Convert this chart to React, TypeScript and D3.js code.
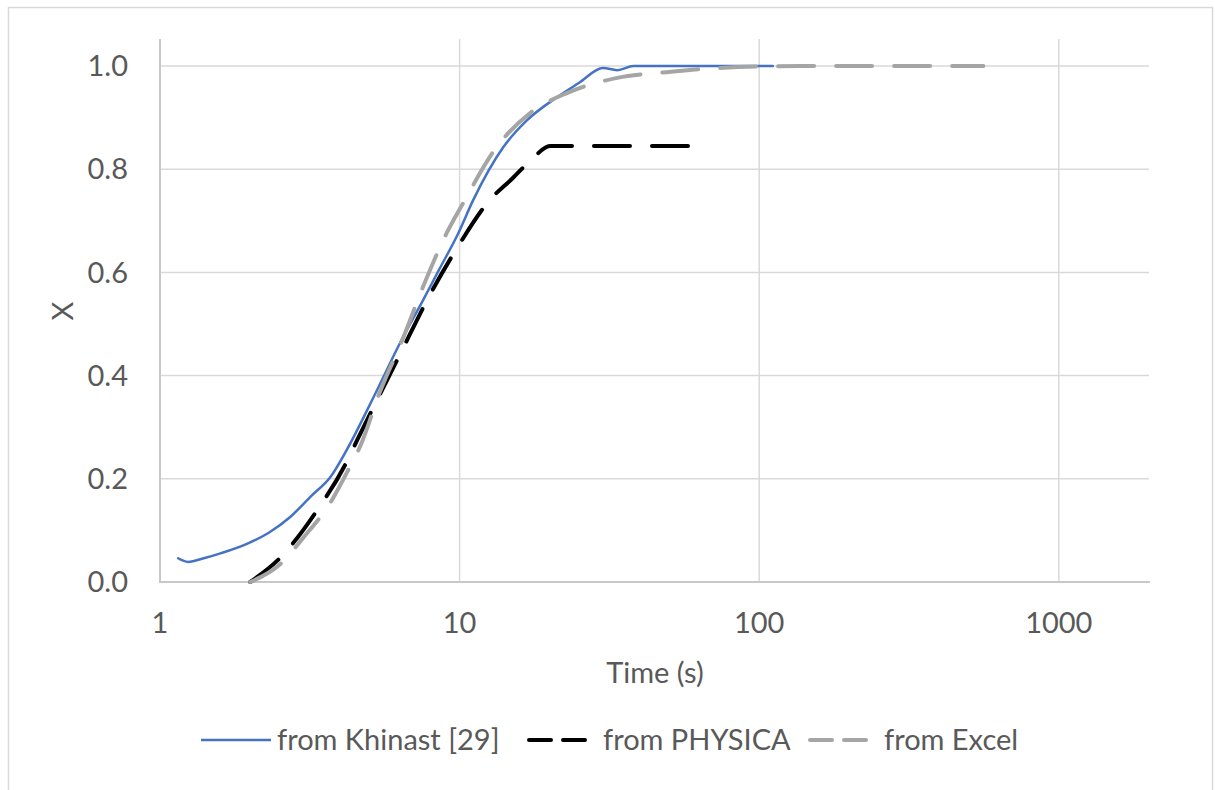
import React from 'react';
import * as d3 from 'd3';

// Khinast [29]
const khinastT = [1.15, 1.24, 1.4, 1.6, 1.95, 2.3, 2.72, 3.2, 3.7, 4.2, 5.2, 6.4, 7.5, 8.5, 9.9, 11.1, 14.0, 16.8, 21.2, 25, 30.1, 33.6, 38, 60, 111];
const khinastX = [0.046, 0.039, 0.046, 0.056, 0.074, 0.095, 0.126, 0.167, 0.203, 0.256, 0.362, 0.469, 0.543, 0.603, 0.676, 0.74, 0.843, 0.895, 0.94, 0.967, 0.996, 0.992, 1.0, 1.0, 1.0];

// PHYSICA
const physicaT = [2.0, 2.5, 3.3, 4.2, 4.55, 5.5, 6.5, 7.8, 9.8, 12.6, 15, 17.6, 20, 30, 45, 60];
const physicaX = [0.0, 0.045, 0.134, 0.233, 0.275, 0.371, 0.455, 0.547, 0.647, 0.74, 0.782, 0.822, 0.845, 0.845, 0.845, 0.845];

// Excel
const excelT = [2.0, 2.5, 3.0, 3.75, 4.3, 4.65, 5.4, 6.5, 7.55, 9.05, 10.2, 13.3, 17.2, 22.9, 33.6, 49, 72, 137, 250, 560];
const excelX = [0.0, 0.033, 0.085, 0.159, 0.223, 0.262, 0.366, 0.475, 0.572, 0.676, 0.731, 0.843, 0.909, 0.948, 0.977, 0.988, 0.996, 1.0, 1.0, 1.0];

const xTicks = [1, 10, 100, 1000];
const yTicks = [0, 0.2, 0.4, 0.6, 0.8, 1.0];
const seriesNames = ['from Khinast [29]', 'from PHYSICA', 'from Excel'];

const W = 1215;
const H = 790;
const FONT = "Lato, 'Open Sans', sans-serif";
const TXT = '#595959';

const App = () => {
  const x = d3.scaleLog().domain([1, 2000]).range([160, 1149]);
  const y = d3.scaleLinear().domain([0, 1]).range([582, 66]);
  const plotTop = 39;

  const line = d3
    .line<[number, number]>()
    .x((d) => x(d[0]))
    .y((d) => y(d[1]))
    .curve(d3.curveMonotoneX);

  const zip = (t: number[], v: number[]) => t.map((d, i) => [d, v[i]] as [number, number]);

  const series = [
    { name: seriesNames[0], pts: zip(khinastT, khinastX), color: '#4472C4', w: 2.5, dash: null, legendDash: null },
    { name: seriesNames[1], pts: zip(physicaT, physicaX), color: '#000000', w: 4, dash: '36 22', legendDash: '22 12' },
    { name: seriesNames[2], pts: zip(excelT, excelX), color: '#A5A5A5', w: 4, dash: '36 22', legendDash: '22 12' },
  ];

  const legendX = [201, 527, 808];
  const legendY = 740;

  return (
    <svg width={W} height={H} style={{ position: 'absolute', left: 0, top: 0, background: '#fff' }}>
      <rect x={8.5} y={7.5} width={1204} height={790} fill="#fff" stroke="#d9d9d9" strokeWidth={1.5} />

      {/* gridlines */}
      {yTicks.filter((t) => t > 0).map((t) => (
        <line key={'gy' + t} x1={160} x2={1149} y1={y(t)} y2={y(t)} stroke="#d9d9d9" strokeWidth={1.5} />
      ))}
      {xTicks.filter((t) => t > 1).map((t) => (
        <line key={'gx' + t} x1={x(t)} x2={x(t)} y1={plotTop} y2={582} stroke="#d9d9d9" strokeWidth={1.5} />
      ))}

      {/* axis lines */}
      <line x1={160} x2={160} y1={plotTop} y2={583} stroke="#c8c8c8" strokeWidth={2} />
      <line x1={159} x2={1150} y1={582} y2={582} stroke="#c8c8c8" strokeWidth={2} />

      {/* tick labels */}
      {yTicks.map((t) => (
        <text key={'ty' + t} x={128} y={y(t)} dy="0.35em" textAnchor="end" fontFamily={FONT} fontSize={29} fill={TXT}>
          {t.toFixed(1)}
        </text>
      ))}
      {xTicks.map((t) => (
        <text key={'tx' + t} x={x(t)} y={633} textAnchor="middle" fontFamily={FONT} fontSize={29} fill={TXT}>
          {t}
        </text>
      ))}

      {/* axis titles */}
      <text x={655} y={683} textAnchor="middle" fontFamily={FONT} fontSize={29} fill={TXT}>
        Time (s)
      </text>
      <text transform="translate(73,311) rotate(-90)" textAnchor="middle" fontFamily={FONT} fontSize={29} fill={TXT}>
        X
      </text>

      {/* series */}
      {series.map((s) => (
        <path
          key={s.name}
          d={line(s.pts) || ''}
          fill="none"
          stroke={s.color}
          strokeWidth={s.w}
          strokeDasharray={s.dash || undefined}
          strokeLinecap="round"
          strokeLinejoin="round"
        />
      ))}

      {/* legend */}
      {series.map((s, i) => (
        <g key={'lg' + i}>
          <line
            x1={legendX[i] + (s.dash ? 2 : 0)}
            x2={legendX[i] + 70 - (s.dash ? 2 : 0)}
            y1={legendY}
            y2={legendY}
            stroke={s.color}
            strokeWidth={s.w}
            strokeDasharray={s.legendDash || undefined}
            strokeLinecap={s.dash ? 'round' : 'butt'}
          />
          <text x={legendX[i] + 76} y={legendY} dy="0.35em" fontFamily={FONT} fontSize={29} fill={TXT}>
            {s.name}
          </text>
        </g>
      ))}
    </svg>
  );
};

export default App;
